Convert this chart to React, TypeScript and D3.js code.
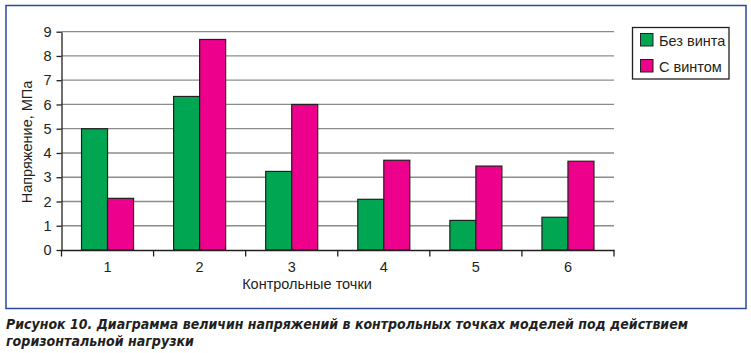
import { useEffect, useRef } from "react";
import * as d3 from "d3";

const points = ["1", "2", "3", "4", "5", "6"];
const withoutScrew = [5.0, 6.33, 3.24, 2.09, 1.22, 1.35];
const withScrew = [2.13, 8.68, 6.0, 3.7, 3.46, 3.66];
const seriesNames = ["Без винта", "С винтом"];
const yTicks = [0, 1, 2, 3, 4, 5, 6, 7, 8, 9];

const colors = ["#00a651", "#ec008c"];
const ink = "#231f20";
const font = "'Liberation Sans', Arial, sans-serif";
const fs = 14.5;

export default function App() {
  const svgRef = useRef<SVGSVGElement | null>(null);

  useEffect(() => {
    const width = 751;
    const height = 353;
    const svg = d3.select(svgRef.current).attr("width", width).attr("height", height);
    svg.selectAll("*").remove();

    // frame
    svg
      .append("rect")
      .attr("x", 6)
      .attr("y", 5.5)
      .attr("width", 740)
      .attr("height", 303)
      .attr("fill", "white")
      .attr("stroke", "#2b4a98")
      .attr("stroke-width", 1.5);

    const left = 61.5;
    const right = 614;
    const top = 31.7;
    const bottom = 250;

    const x = d3.scaleBand<string>().domain(points).range([left, right]).paddingInner(0).paddingOuter(0);
    const inner = d3
      .scaleBand<number>()
      .domain([0, 1])
      .range([0, x.bandwidth()])
      .paddingInner(0)
      .paddingOuter(0.77);
    const y = d3.scaleLinear().domain([0, 9]).range([bottom, top]);

    const g = svg.append("g");

    // gridlines
    g.selectAll("line.grid")
      .data(yTicks.filter((t) => t > 0))
      .enter()
      .append("line")
      .attr("x1", left)
      .attr("x2", right)
      .attr("y1", (d) => y(d))
      .attr("y2", (d) => y(d))
      .attr("stroke", "#8c8c8c")
      .attr("stroke-width", 1.3);

    // bars
    const series = [withoutScrew, withScrew];
    series.forEach((vals, si) => {
      g.selectAll(`rect.s${si}`)
        .data(vals)
        .enter()
        .append("rect")
        .attr("x", (_, i) => (x(points[i]) ?? 0) + (inner(si) ?? 0))
        .attr("y", (d) => y(d))
        .attr("width", inner.bandwidth())
        .attr("height", (d) => bottom - y(d))
        .attr("fill", colors[si])
        .attr("stroke", ink)
        .attr("stroke-width", 1.2);
    });

    // y axis
    const yAxis = g
      .append("g")
      .attr("transform", `translate(${left},0)`)
      .call(d3.axisLeft(y).tickValues(yTicks).tickSize(5).tickPadding(5).tickSizeOuter(0));
    yAxis.select(".domain").attr("stroke", ink).attr("stroke-width", 1.3);
    yAxis.selectAll(".tick line").attr("stroke", ink).attr("stroke-width", 1.3);
    yAxis
      .selectAll(".tick text")
      .attr("font-family", font)
      .attr("font-size", fs)
      .attr("fill", ink);

    // x axis
    const xAxis = g
      .append("g")
      .attr("transform", `translate(0,${bottom})`)
      .call(d3.axisBottom(x).tickSize(0).tickPadding(12).tickSizeOuter(0));
    xAxis.select(".domain").attr("stroke", ink).attr("stroke-width", 1.3);
    xAxis
      .selectAll(".tick text")
      .attr("font-family", font)
      .attr("font-size", fs)
      .attr("fill", ink);
    const bounds = [...points.map((p) => x(p) ?? 0), right];
    xAxis
      .selectAll("line.sep")
      .data(bounds)
      .enter()
      .append("line")
      .attr("x1", (d) => d)
      .attr("x2", (d) => d)
      .attr("y1", 0)
      .attr("y2", 6.5)
      .attr("stroke", ink)
      .attr("stroke-width", 1.3);

    // axis titles
    svg
      .append("text")
      .attr("x", 307)
      .attr("y", 289)
      .attr("text-anchor", "middle")
      .attr("font-family", font)
      .attr("font-size", fs)
      .attr("fill", ink)
      .text("Контрольные точки");
    svg
      .append("text")
      .attr("transform", "translate(32,142) rotate(-90)")
      .attr("text-anchor", "middle")
      .attr("font-family", font)
      .attr("font-size", fs)
      .attr("fill", ink)
      .text("Напряжение, МПа");

    // legend
    const lg = svg.append("g");
    lg.append("rect")
      .attr("x", 632.5)
      .attr("y", 27.5)
      .attr("width", 96.5)
      .attr("height", 51.5)
      .attr("fill", "white")
      .attr("stroke", ink)
      .attr("stroke-width", 1.3);
    seriesNames.forEach((name, i) => {
      lg.append("rect")
        .attr("x", 640.5)
        .attr("y", 33.5 + i * 26)
        .attr("width", 12.5)
        .attr("height", 12.5)
        .attr("fill", colors[i])
        .attr("stroke", ink)
        .attr("stroke-width", 1);
      lg.append("text")
        .attr("x", 659)
        .attr("y", 45.5 + i * 26)
        .attr("font-family", font)
        .attr("font-size", fs)
        .attr("fill", ink)
        .text(name);
    });

    // caption
    const cap = "'Liberation Sans Narrow', 'DejaVu Sans Condensed', 'Roboto Condensed', sans-serif";
    svg
      .append("text")
      .attr("x", 6)
      .attr("y", 329)
      .attr("font-family", cap)
      .attr("font-size", 14.5)
      .attr("font-weight", "bold")
      .attr("font-style", "italic")
      .attr("fill", ink)
      .attr("textLength", 682)
      .attr("lengthAdjust", "spacingAndGlyphs")
      .text("Рисунок 10. Диаграмма величин напряжений в контрольных точках моделей под действием");
    svg
      .append("text")
      .attr("x", 6)
      .attr("y", 346)
      .attr("font-family", cap)
      .attr("font-size", 14.5)
      .attr("font-weight", "bold")
      .attr("font-style", "italic")
      .attr("fill", ink)
      .attr("textLength", 188)
      .attr("lengthAdjust", "spacingAndGlyphs")
      .text("горизонтальной нагрузки");
  }, []);

  return <svg ref={svgRef} style={{ position: "absolute", left: 0, top: 0 }}></svg>;
}
